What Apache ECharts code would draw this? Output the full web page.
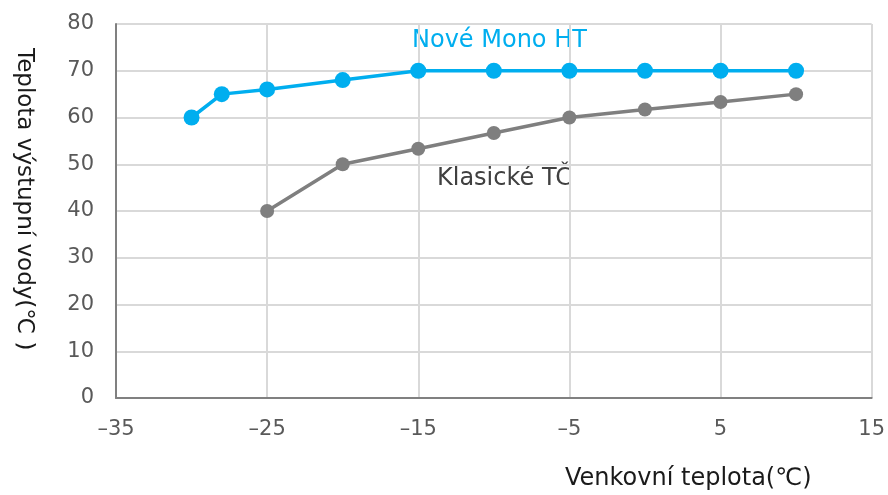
<!DOCTYPE html>
<html>
<head>
<meta charset="utf-8">
<script src="https://cdn.jsdelivr.net/npm/echarts@6/dist/echarts.min.js"></script>
<style>
html, body { margin: 0; padding: 0; background: #fff; }
#box1 { width: 888px; height: 495px; }
</style>
</head>
<body>
<div id="box1"></div>
<script>
var monoX = [-30, -28, -25, -20, -15, -10, -5, 0, 5, 10];
var monoY = [60, 65, 66, 68, 70, 70, 70, 70, 70, 70];
var klasX = [-25, -20, -15, -10, -5, 0, 5, 10];
var klasY = [40, 50, 53.3, 56.7, 60, 61.7, 63.3, 65];
var seriesNames = ["Nové Mono HT", "Klasické TČ"];

function pairs(xs, ys) {
    var res = [];
    for (var i = 0; i < xs.length; i++) {
        res.push([xs[i], ys[i]]);
    }
    return res;
}

var fontName = "DejaVu Sans";
var myChart = echarts.init(document.getElementById("box1"));

option = {
    backgroundColor: '#fff',
    animation: false,
    grid: {
        left: 116,
        top: 24,
        right: 16,
        bottom: 97
    },
    xAxis: {
        type: 'value',
        min: -35,
        max: 15,
        interval: 10,
        axisLine: { show: true, onZero: false, lineStyle: { color: '#808080', width: 2 } },
        axisTick: { show: false },
        axisLabel: {
            color: '#595959',
            fontSize: 21,
            fontFamily: fontName,
            margin: 21,
            formatter: function (v) { return v < 0 ? '\u2013' + Math.abs(v) : '' + v; }
        },
        splitLine: { show: true, lineStyle: { color: '#d9d9d9', width: 2 } }
    },
    yAxis: {
        type: 'value',
        min: 0,
        max: 80,
        interval: 10,
        axisLine: { show: true, onZero: false, lineStyle: { color: '#808080', width: 2 } },
        axisTick: { show: false },
        axisLabel: {
            color: '#595959',
            fontSize: 21,
            fontFamily: fontName,
            margin: 22
        },
        splitLine: { show: true, lineStyle: { color: '#d9d9d9', width: 2 } }
    },
    graphic: [{
        type: 'text',
        left: 412,
        top: 29,
        style: { text: seriesNames[0], fill: '#00aeef', font: '24px "DejaVu Sans"' }
    }, {
        type: 'text',
        left: 437,
        top: 167,
        style: { text: seriesNames[1], fill: '#404040', font: '24px "DejaVu Sans"' }
    }, {
        type: 'text',
        left: 565,
        top: 467,
        style: { text: 'Venkovní teplota(℃)', fill: '#1a1a1a', font: '24px "DejaVu Sans"' }
    }, {
        type: 'text',
        x: 35,
        y: 48,
        rotation: -Math.PI / 2,
        style: { text: 'Teplota výstupní vody(℃ )', fill: '#1a1a1a', font: '23px "DejaVu Sans"' }
    }],
    series: [{
        name: seriesNames[0],
        type: 'line',
        data: pairs(monoX, monoY),
        symbol: 'circle',
        symbolSize: 16,
        itemStyle: { color: '#00aeef' },
        lineStyle: { color: '#00aeef', width: 3.5 },
        z: 3
    }, {
        name: seriesNames[1],
        type: 'line',
        data: pairs(klasX, klasY),
        symbol: 'circle',
        symbolSize: 14,
        itemStyle: { color: '#7f7f7f' },
        lineStyle: { color: '#7f7f7f', width: 3.5 },
        z: 2
    }]
};
myChart.setOption(option, true);
</script>
</body>
</html>
